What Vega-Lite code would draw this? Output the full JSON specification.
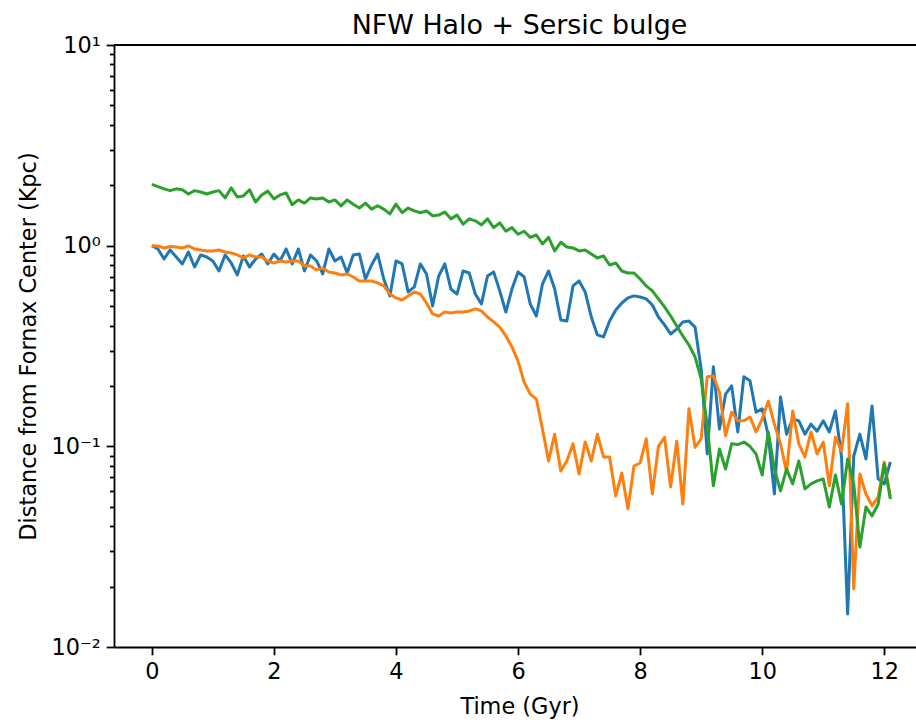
{
  "$schema": "https://vega.github.io/schema/vega-lite/v6.json",
  "width": 802,
  "height": 602,
  "autosize": {"type": "none"},
  "padding": {"left": 114, "top": 45, "right": 0, "bottom": 76},
  "background": "white",
  "config": {"font": "DejaVu Sans", "view": {"stroke": null}},
  "title": {"text": "NFW Halo + Sersic bulge", "fontSize": 26.9, "fontWeight": "normal", "color": "black", "anchor": "middle", "frame": "group", "baseline": "alphabetic", "offset": -26.5, "dx": 4.5},
  "data": {"values": [
    {"t":0.0,"b":1.0,"o":1.0,"g":2.02},
    {"t":0.1,"b":0.963,"o":0.997,"g":1.97},
    {"t":0.2,"b":0.858,"o":0.974,"g":1.92},
    {"t":0.3,"b":0.952,"o":0.99,"g":1.88},
    {"t":0.4,"b":0.878,"o":0.985,"g":1.92},
    {"t":0.5,"b":0.811,"o":0.974,"g":1.90},
    {"t":0.6,"b":0.930,"o":0.997,"g":1.81},
    {"t":0.7,"b":0.783,"o":0.963,"g":1.88},
    {"t":0.8,"b":0.899,"o":0.952,"g":1.85},
    {"t":0.9,"b":0.878,"o":0.941,"g":1.81},
    {"t":1.0,"b":0.839,"o":0.941,"g":1.85},
    {"t":1.1,"b":0.748,"o":0.952,"g":1.88},
    {"t":1.2,"b":0.899,"o":0.930,"g":1.73},
    {"t":1.3,"b":0.820,"o":0.920,"g":1.94},
    {"t":1.4,"b":0.715,"o":0.899,"g":1.75},
    {"t":1.5,"b":0.889,"o":0.868,"g":1.77},
    {"t":1.6,"b":0.783,"o":0.899,"g":1.90},
    {"t":1.7,"b":0.858,"o":0.878,"g":1.65},
    {"t":1.8,"b":0.909,"o":0.878,"g":1.79},
    {"t":1.9,"b":0.811,"o":0.839,"g":1.87},
    {"t":2.0,"b":0.909,"o":0.820,"g":1.71},
    {"t":2.1,"b":0.839,"o":0.839,"g":1.79},
    {"t":2.2,"b":0.963,"o":0.829,"g":1.83},
    {"t":2.3,"b":0.811,"o":0.839,"g":1.60},
    {"t":2.4,"b":0.963,"o":0.839,"g":1.69},
    {"t":2.5,"b":0.748,"o":0.792,"g":1.63},
    {"t":2.6,"b":0.899,"o":0.792,"g":1.73},
    {"t":2.7,"b":0.839,"o":0.757,"g":1.71},
    {"t":2.8,"b":0.723,"o":0.774,"g":1.73},
    {"t":2.9,"b":0.963,"o":0.740,"g":1.65},
    {"t":3.0,"b":0.839,"o":0.731,"g":1.69},
    {"t":3.1,"b":0.878,"o":0.715,"g":1.58},
    {"t":3.2,"b":0.731,"o":0.723,"g":1.69},
    {"t":3.3,"b":0.899,"o":0.698,"g":1.61},
    {"t":3.4,"b":0.909,"o":0.667,"g":1.54},
    {"t":3.5,"b":0.682,"o":0.667,"g":1.63},
    {"t":3.6,"b":0.801,"o":0.667,"g":1.52},
    {"t":3.7,"b":0.909,"o":0.652,"g":1.58},
    {"t":3.8,"b":0.682,"o":0.630,"g":1.52},
    {"t":3.9,"b":0.562,"o":0.574,"g":1.44},
    {"t":4.0,"b":0.839,"o":0.549,"g":1.61},
    {"t":4.1,"b":0.811,"o":0.536,"g":1.46},
    {"t":4.2,"b":0.588,"o":0.562,"g":1.54},
    {"t":4.3,"b":0.623,"o":0.588,"g":1.49},
    {"t":4.4,"b":0.811,"o":0.574,"g":1.46},
    {"t":4.5,"b":0.723,"o":0.518,"g":1.49},
    {"t":4.6,"b":0.501,"o":0.457,"g":1.41},
    {"t":4.7,"b":0.706,"o":0.446,"g":1.42},
    {"t":4.8,"b":0.811,"o":0.467,"g":1.47},
    {"t":4.9,"b":0.608,"o":0.462,"g":1.36},
    {"t":5.0,"b":0.574,"o":0.467,"g":1.42},
    {"t":5.1,"b":0.748,"o":0.467,"g":1.28},
    {"t":5.2,"b":0.731,"o":0.473,"g":1.36},
    {"t":5.3,"b":0.574,"o":0.484,"g":1.33},
    {"t":5.4,"b":0.512,"o":0.473,"g":1.27},
    {"t":5.5,"b":0.706,"o":0.441,"g":1.36},
    {"t":5.6,"b":0.740,"o":0.417,"g":1.23},
    {"t":5.7,"b":0.595,"o":0.393,"g":1.30},
    {"t":5.8,"b":0.467,"o":0.355,"g":1.18},
    {"t":5.9,"b":0.608,"o":0.313,"g":1.23},
    {"t":6.0,"b":0.740,"o":0.266,"g":1.14},
    {"t":6.1,"b":0.698,"o":0.209,"g":1.18},
    {"t":6.2,"b":0.512,"o":0.182,"g":1.10},
    {"t":6.3,"b":0.446,"o":0.172,"g":1.13},
    {"t":6.4,"b":0.644,"o":0.122,"g":1.02},
    {"t":6.5,"b":0.748,"o":0.0845,"g":1.10},
    {"t":6.6,"b":0.608,"o":0.115,"g":0.941},
    {"t":6.7,"b":0.426,"o":0.0753,"g":1.04},
    {"t":6.8,"b":0.421,"o":0.0845,"g":0.985},
    {"t":6.9,"b":0.630,"o":0.103,"g":0.974},
    {"t":7.0,"b":0.667,"o":0.0728,"g":0.941},
    {"t":7.1,"b":0.588,"o":0.105,"g":0.952},
    {"t":7.2,"b":0.441,"o":0.0845,"g":0.909},
    {"t":7.3,"b":0.359,"o":0.115,"g":0.868},
    {"t":7.4,"b":0.351,"o":0.0885,"g":0.889},
    {"t":7.5,"b":0.421,"o":0.0885,"g":0.801},
    {"t":7.6,"b":0.478,"o":0.0566,"g":0.820},
    {"t":7.7,"b":0.518,"o":0.0736,"g":0.748},
    {"t":7.8,"b":0.549,"o":0.0488,"g":0.731},
    {"t":7.9,"b":0.562,"o":0.0798,"g":0.731},
    {"t":8.0,"b":0.555,"o":0.0826,"g":0.682},
    {"t":8.1,"b":0.543,"o":0.109,"g":0.630},
    {"t":8.2,"b":0.506,"o":0.0579,"g":0.595},
    {"t":8.3,"b":0.441,"o":0.100,"g":0.543},
    {"t":8.4,"b":0.403,"o":0.111,"g":0.495},
    {"t":8.5,"b":0.363,"o":0.0628,"g":0.446},
    {"t":8.6,"b":0.384,"o":0.106,"g":0.398},
    {"t":8.7,"b":0.417,"o":0.0516,"g":0.355},
    {"t":8.8,"b":0.421,"o":0.154,"g":0.320},
    {"t":8.9,"b":0.393,"o":0.0989,"g":0.279},
    {"t":9.0,"b":0.243,"o":0.109,"g":0.217},
    {"t":9.1,"b":0.0916,"o":0.222,"g":0.126},
    {"t":9.2,"b":0.249,"o":0.224,"g":0.0636},
    {"t":9.3,"b":0.122,"o":0.186,"g":0.0970},
    {"t":9.4,"b":0.182,"o":0.113,"g":0.0771},
    {"t":9.5,"b":0.200,"o":0.148,"g":0.103},
    {"t":9.6,"b":0.118,"o":0.134,"g":0.102},
    {"t":9.7,"b":0.222,"o":0.134,"g":0.105},
    {"t":9.8,"b":0.212,"o":0.140,"g":0.100},
    {"t":9.9,"b":0.148,"o":0.118,"g":0.0916},
    {"t":10.0,"b":0.154,"o":0.137,"g":0.0719},
    {"t":10.1,"b":0.113,"o":0.168,"g":0.118},
    {"t":10.2,"b":0.0579,"o":0.129,"g":0.0771},
    {"t":10.3,"b":0.176,"o":0.103,"g":0.0600},
    {"t":10.4,"b":0.115,"o":0.0745,"g":0.0771},
    {"t":10.5,"b":0.137,"o":0.150,"g":0.0650},
    {"t":10.6,"b":0.134,"o":0.103,"g":0.0845},
    {"t":10.7,"b":0.115,"o":0.0885,"g":0.0614},
    {"t":10.8,"b":0.129,"o":0.118,"g":0.0650},
    {"t":10.9,"b":0.119,"o":0.0916,"g":0.0673},
    {"t":11.0,"b":0.134,"o":0.105,"g":0.0688},
    {"t":11.1,"b":0.118,"o":0.0636,"g":0.0499},
    {"t":11.2,"b":0.150,"o":0.111,"g":0.0719},
    {"t":11.3,"b":0.0885,"o":0.0948,"g":0.0516},
    {"t":11.4,"b":0.0146,"o":0.163,"g":0.0865},
    {"t":11.5,"b":0.0895,"o":0.0195,"g":0.0650},
    {"t":11.6,"b":0.115,"o":0.0728,"g":0.0315},
    {"t":11.7,"b":0.0865,"o":0.0579,"g":0.0499},
    {"t":11.8,"b":0.159,"o":0.0505,"g":0.0450},
    {"t":11.9,"b":0.0688,"o":0.0560,"g":0.0516},
    {"t":12.0,"b":0.0650,"o":0.0836,"g":0.0817},
    {"t":12.1,"b":0.0836,"o":0.0560,"g":0.0547}
  ]},
  "layer": [
    {
      "transform": [{"fold": ["b", "o", "g"], "as": ["s", "d"]}],
      "mark": {"type": "line", "strokeWidth": 3, "strokeJoin": "round", "strokeCap": "butt", "clip": true},
      "encoding": {
        "x": {"field": "t", "type": "quantitative",
          "scale": {"domain": [-0.62, 12.52], "nice": false, "zero": false},
          "axis": {"values": [0, 2, 4, 6, 8, 10, 12], "format": "d", "title": "Time (Gyr)", "grid": false,
            "domainColor": "black", "domainWidth": 1.8, "tickColor": "black", "tickWidth": 1.8, "tickSize": 7.8,
            "labelFontSize": 22.4, "labelColor": "black", "labelPadding": 6, "labelFlush": false,
            "titleFontSize": 22.4, "titleFontWeight": "normal", "titleColor": "black",
            "titleX": 405.5, "titleY": 59, "titleBaseline": "middle", "titleAlign": "center"}},
        "y": {"field": "d", "type": "quantitative",
          "scale": {"type": "log", "domain": [0.01, 10], "nice": false},
          "axis": {"values": [0.01,0.02,0.03,0.04,0.05,0.06,0.07,0.08,0.09,0.1,0.2,0.3,0.4,0.5,0.6,0.7,0.8,0.9,1,2,3,4,5,6,7,8,9,10],
            "labelExpr": "datum.value == 10 ? '10¹' : datum.value == 1 ? '10⁰' : datum.value == 0.1 ? '10⁻¹' : datum.value == 0.01 ? '10⁻²' : ''",
            "title": "Distance from Fornax Center (Kpc)", "grid": false,
            "domainColor": "black", "domainWidth": 1.8, "tickColor": "black", "tickWidth": 1.8,
            "tickSize": {"condition": {"test": "datum.value == 10 || datum.value == 1 || datum.value == 0.1 || datum.value == 0.01", "value": 7.8}, "value": 4.5},
            "labelFontSize": 22.4, "labelColor": "black", "labelPadding": 6, "labelFlush": false, "labelOverlap": false,
            "titleFontSize": 22.4, "titleFontWeight": "normal", "titleColor": "black",
            "titleX": -86, "titleY": 301, "titleAngle": -90, "titleBaseline": "middle", "titleAlign": "center"}},
        "color": {"field": "s", "type": "nominal", "legend": null,
          "scale": {"domain": ["b", "o", "g"], "range": ["#1f77b4", "#ff7f0e", "#2ca02c"]}}
      }
    },
    {
      "mark": {"type": "rule", "color": "black", "strokeWidth": 1.8},
      "encoding": {"y": {"datum": 10}}
    }
  ]
}
